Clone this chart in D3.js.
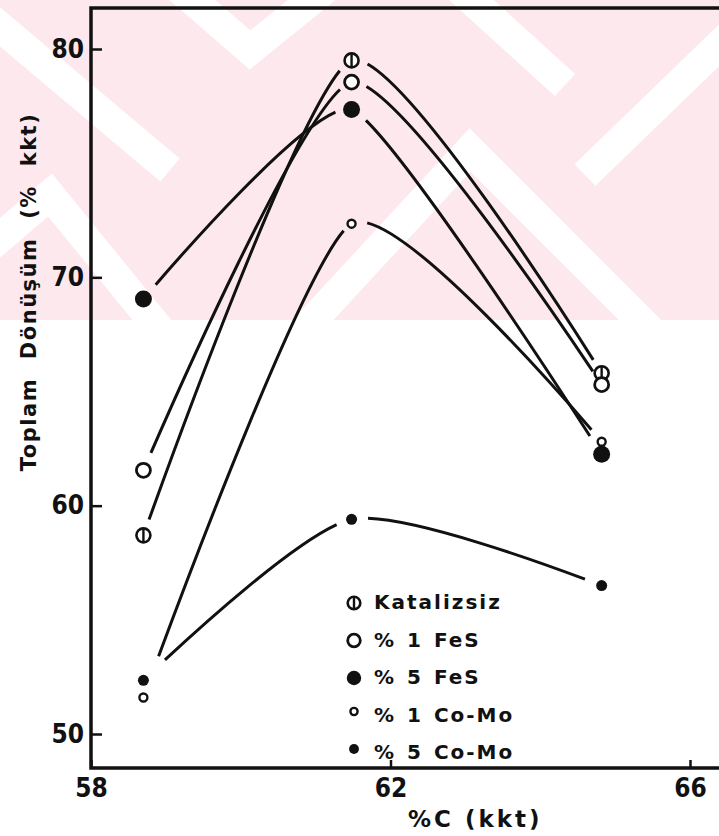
<!DOCTYPE html>
<html>
<head>
<meta charset="utf-8">
<script src="https://cdn.jsdelivr.net/npm/d3@7/dist/d3.min.js"></script>
<style>
body { margin: 0; background: #fff; }
svg { display: block; }
</style>
</head>
<body>
<div id="chart"></div>
<script>
// values
var xValues = [58.7, 61.48, 64.82];
var seriesNames = ["Katalizsiz", "% 1 FeS", "% 5 FeS", "% 1 Co-Mo", "% 5 Co-Mo"];
var katalizsiz = [58.7, 79.5, 65.8];
var fes1 = [61.55, 78.55, 65.3];
var fes5 = [69.05, 77.35, 62.25];
var como1 = [51.6, 72.35, 62.8];
var como5 = [52.35, 59.4, 56.5];
var xTicks = [58, 62, 66];
var yTicks = [50, 60, 70, 80];

var width = 719, height = 836;
var ink = "#111";
var tickFont = "'DejaVu Sans Condensed', 'DejaVu Sans', sans-serif";
var textFont = "'DejaVu Sans', sans-serif";

var series = [
    {name: seriesNames[0], values: katalizsiz, marker: "bar",   tension: 0.4,  gaps: [17, 16, 17, 16]},
    {name: seriesNames[1], values: fes1,       marker: "open",  tension: 0.4,  gaps: [19, 14, 16, 16]},
    {name: seriesNames[2], values: fes5,       marker: "fill",  tension: 0.5,  gaps: [19, 17, 18, 22]},
    {name: seriesNames[3], values: como1,      marker: "sopen", tension: 0.4,  gaps: [44, 11, 16, 16]},
    {name: seriesNames[4], values: como5,      marker: "sfill", tension: 0.3,  gaps: [30, 16, 17, 18]}
];

var svg = d3.select("#chart").append("svg")
    .attr("width", width).attr("height", height)
    .attr("viewBox", [0, 0, width, height]);

// faint pink watermark across the top of the scan
var wm = svg.append("g");
wm.append("clipPath").attr("id", "wmclip")
    .append("rect").attr("width", width).attr("height", 320);
var wmg = wm.append("g").attr("clip-path", "url(#wmclip)");
wmg.append("rect").attr("width", width).attr("height", 320).attr("fill", "#fde9ed");
var bands = [
    [[-20, 10], [170, 170]],
    [[175, -15], [250, 50], [330, -15]],
    [[290, 345], [470, 150], [660, 340]],
    [[455, -15], [565, 85]],
    [[740, 25], [585, 175]],
    [[-20, 255], [50, 195], [160, 330]]
];
wmg.selectAll(".band").data(bands).enter().append("path")
    .attr("class", "band")
    .attr("d", d3.line())
    .attr("fill", "none")
    .attr("stroke", "#fff")
    .attr("stroke-width", 30);

var x = d3.scaleLinear().domain([58, 66]).range([91, 690]);
var y = d3.scaleLinear().domain([50, 80]).range([734, 49]);

// frame (right edge runs off the page like in the scan)
svg.append("rect")
    .attr("x", 91).attr("y", 8)
    .attr("width", 760).attr("height", 760)
    .attr("fill", "none")
    .attr("stroke", ink)
    .attr("stroke-width", 3.5);

var yAxis = svg.append("g")
    .attr("transform", "translate(91,0)")
    .call(d3.axisLeft(y).tickValues(yTicks).tickSize(-11).tickPadding(7).tickFormat(d3.format("d")));
var xAxis = svg.append("g")
    .attr("transform", "translate(0,768)")
    .call(d3.axisBottom(x).tickValues(xTicks).tickSize(-8).tickPadding(11).tickFormat(d3.format("d")));

[xAxis, yAxis].forEach(function(a) {
    a.select(".domain").remove();
    a.selectAll(".tick line").attr("stroke", ink).attr("stroke-width", 2.5);
    a.selectAll(".tick text")
        .attr("fill", ink)
        .style("font-family", tickFont)
        .style("font-weight", "bold")
        .style("font-size", "26px");
});

svg.append("text")
    .attr("transform", "translate(36,292) rotate(-90)")
    .attr("text-anchor", "middle")
    .style("font-family", textFont)
    .style("font-weight", "bold")
    .style("font-size", "21px")
    .style("letter-spacing", "1.5px")
    .style("word-spacing", "10px")
    .attr("fill", ink)
    .text("Toplam Dönüşüm (% kkt)");

svg.append("text")
    .attr("x", 408).attr("y", 827)
    .style("font-family", textFont)
    .style("font-weight", "bold")
    .style("font-size", "23px")
    .style("letter-spacing", "3px")
    .attr("fill", ink)
    .text("%C (kkt)");

// curves, cut short near each marker as in the drawing
series.forEach(function(s) {
    var line = d3.line()
        .curve(d3.curveCardinal.tension(s.tension))
        .x(function(d, i) { return x(xValues[i]); })
        .y(function(d) { return y(d); });
    var path = svg.append("path")
        .attr("d", line(s.values))
        .attr("fill", "none")
        .attr("stroke", ink)
        .attr("stroke-width", 3)
        .attr("stroke-linecap", "butt");
    var node = path.node();
    var L = node.getTotalLength();
    var px = x(xValues[1]), py = y(s.values[1]);
    var best = 0, bestD = Infinity;
    for (var t = 0; t <= L; t += 0.5) {
        var p = node.getPointAtLength(t);
        var dd = (p.x - px) * (p.x - px) + (p.y - py) * (p.y - py);
        if (dd < bestD) { bestD = dd; best = t; }
    }
    var g = s.gaps;
    path.attr("stroke-dasharray", [0, g[0], best - g[1] - g[0], g[1] + g[2], L - g[3] - best - g[2], L].join(" "));
});

function marker(sel, type, cx, cy, k) {
    var m = sel.append("g").attr("transform", "translate(" + cx + "," + cy + ")");
    if (type == "bar") {
        m.append("circle").attr("r", 7 * k).attr("fill", "#fff").attr("stroke", ink).attr("stroke-width", 2.6);
        m.append("line").attr("y1", -7 * k).attr("y2", 7 * k).attr("stroke", ink).attr("stroke-width", 2.4);
    } else if (type == "open") {
        m.append("circle").attr("r", 7 * k).attr("fill", "#fff").attr("stroke", ink).attr("stroke-width", 2.8);
    } else if (type == "fill") {
        m.append("circle").attr("r", 8.5 * k).attr("fill", ink);
    } else if (type == "sopen") {
        m.append("circle").attr("r", 4 * k).attr("fill", "#fff").attr("stroke", ink).attr("stroke-width", 2.4);
    } else {
        m.append("circle").attr("r", 5.5 * k).attr("fill", ink);
    }
}

series.forEach(function(s) {
    s.values.forEach(function(v, i) {
        marker(svg, s.marker, x(xValues[i]), y(v), 1);
    });
});

// legend
var legend = svg.selectAll(".legend")
    .data(series)
    .enter().append("g")
    .attr("class", "legend")
    .attr("transform", function(d, i) { return "translate(0," + (603 + i * 37.5) + ")"; });

legend.each(function(d) {
    var small = d.marker == "sopen" || d.marker == "sfill";
    marker(d3.select(this), d.marker, 354, small ? -4 : 0, d.marker == "fill" ? 0.85 : 0.9);
});

legend.append("text")
    .attr("x", 374)
    .attr("y", 6)
    .attr("fill", ink)
    .style("font-family", textFont)
    .style("font-weight", "bold")
    .style("font-size", "20px")
    .style("letter-spacing", "2px")
    .style("word-spacing", "2px")
    .text(function(d) { return d.name; });
</script>
</body>
</html>
